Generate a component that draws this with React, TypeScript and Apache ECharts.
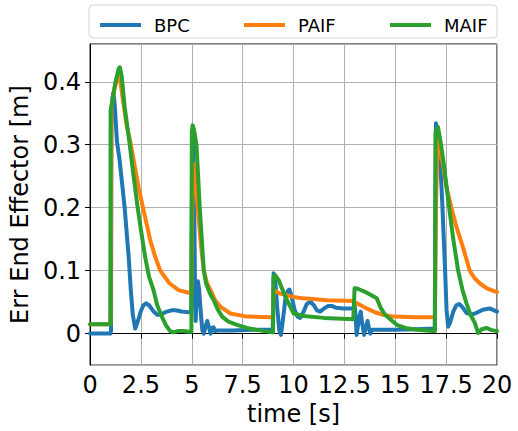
import React, { useEffect, useRef } from "react";
import * as echarts from "echarts";

const seriesNames = ["BPC", "PAIF", "MAIF"];
const seriesColors = ["#1f77b4", "#ff7f0e", "#2ca02c"];

const bpcT = [0, 1.0, 1.03, 1.05, 1.1, 1.15, 1.22, 1.32, 1.44, 1.57, 1.7, 1.8, 1.9, 2.0, 2.1, 2.22, 2.35, 2.5, 2.62, 2.75, 2.9, 3.1, 3.3, 3.45, 3.7, 4.0, 4.2, 4.5, 4.84, 4.97, 5.0, 5.03, 5.07, 5.12, 5.16, 5.19, 5.24, 5.3, 5.36, 5.45, 5.52, 5.59, 5.68, 5.76, 5.84, 5.92, 6.0, 6.07, 6.14, 6.25, 7, 8, 8.98, 9.02, 9.1, 9.2, 9.3, 9.38, 9.47, 9.6, 9.72, 9.8, 9.9, 10.05, 10.2, 10.33, 10.5, 10.65, 10.82, 11.0, 11.15, 11.31, 11.5, 11.7, 11.88, 12.1, 12.45, 12.94, 13.0, 13.05, 13.1, 13.2, 13.3, 13.38, 13.47, 13.55, 13.64, 13.71, 13.77, 13.85, 14.0, 15, 16, 16.94, 16.97, 17.0, 17.05, 17.22, 17.32, 17.45, 17.52, 17.6, 17.7, 17.85, 18.0, 18.14, 18.3, 18.5, 18.74, 19.0, 19.3, 19.64, 20];
const bpcV = [0, 0, 0.005, 0.35, 0.375, 0.383, 0.36, 0.305, 0.279, 0.24, 0.2, 0.16, 0.121, 0.07, 0.03, 0.008, 0.02, 0.036, 0.045, 0.048, 0.045, 0.036, 0.03, 0.03, 0.034, 0.037, 0.037, 0.035, 0.034, 0.034, 0.2, 0.31, 0.29, 0.2, 0.06, 0.02, 0.06, 0.083, 0.07, 0.03, 0.005, 0.0, 0.012, 0.02, 0.01, 0.0, 0.009, 0.01, 0.004, 0.005, 0.005, 0.006, 0.006, 0.096, 0.085, 0.04, 0.005, -0.002, 0.02, 0.055, 0.068, 0.07, 0.06, 0.038, 0.027, 0.025, 0.035, 0.047, 0.051, 0.045, 0.037, 0.035, 0.04, 0.044, 0.044, 0.041, 0.04, 0.04, 0.045, 0.03, -0.002, 0.02, 0.035, 0.015, -0.002, 0.01, 0.02, 0.008, 0.0, 0.006, 0.006, 0.006, 0.007, 0.008, 0.2, 0.334, 0.32, 0.268, 0.2, 0.1, 0.038, 0.011, 0.018, 0.035, 0.045, 0.047, 0.042, 0.033, 0.03, 0.033, 0.038, 0.04, 0.035];

const paifT = [0, 1.0, 1.05, 1.2, 1.35, 1.46, 1.6, 1.8, 1.98, 2.2, 2.4, 2.6, 2.96, 3.2, 3.45, 3.9, 4.35, 4.84, 4.98, 5.02, 5.08, 5.15, 5.29, 5.45, 5.59, 5.75, 5.92, 6.15, 6.4, 6.9, 7.7, 8.86, 8.99, 9.02, 9.3, 9.67, 10.0, 10.49, 11.64, 12.94, 13.0, 13.3, 13.6, 14.0, 14.41, 14.9, 16.0, 16.95, 17.0, 17.08, 17.2, 17.35, 17.5, 17.76, 18.0, 18.33, 18.66, 18.9, 19.15, 19.5, 20];
const paifV = [0.015, 0.015, 0.36, 0.39, 0.405, 0.407, 0.375, 0.33, 0.305, 0.265, 0.23, 0.2, 0.148, 0.122, 0.1, 0.08, 0.069, 0.065, 0.063, 0.2, 0.27, 0.26, 0.2, 0.14, 0.1, 0.08, 0.069, 0.053, 0.043, 0.032, 0.027, 0.026, 0.026, 0.07, 0.064, 0.061, 0.058, 0.056, 0.053, 0.052, 0.05, 0.045, 0.04, 0.034, 0.03, 0.027, 0.026, 0.026, 0.2, 0.31, 0.29, 0.268, 0.235, 0.2, 0.17, 0.137, 0.1, 0.088, 0.08, 0.072, 0.066];

const maifT = [0, 1.0, 1.01, 1.1, 1.25, 1.4, 1.46, 1.55, 1.7, 1.93, 2.1, 2.34, 2.5, 2.71, 2.9, 3.12, 3.3, 3.53, 3.75, 3.94, 4.1, 4.3, 4.6, 4.84, 4.98, 5.0, 5.04, 5.1, 5.23, 5.31, 5.39, 5.49, 5.59, 5.7, 5.83, 5.95, 6.08, 6.25, 6.49, 6.8, 7.22, 7.7, 8.2, 8.94, 8.99, 9.02, 9.1, 9.27, 9.59, 10.0, 10.49, 11.5, 12.94, 13.0, 13.1, 13.6, 14.09, 14.3, 14.5, 15.07, 15.5, 16.05, 16.86, 16.95, 16.98, 17.1, 17.25, 17.39, 17.65, 17.85, 18.09, 18.3, 18.5, 18.7, 18.91, 19.07, 19.25, 19.48, 19.7, 20];
const maifV = [0.015, 0.015, 0.354, 0.37, 0.4, 0.42, 0.423, 0.41, 0.36, 0.305, 0.26, 0.2, 0.165, 0.121, 0.09, 0.069, 0.045, 0.027, 0.012, 0.004, 0.002, 0.004, 0.004, 0.003, 0.003, 0.32, 0.331, 0.325, 0.3, 0.25, 0.2, 0.15, 0.1, 0.08, 0.069, 0.06, 0.053, 0.04, 0.027, 0.019, 0.014, 0.009, 0.006, 0.002, 0.002, 0.09, 0.093, 0.085, 0.059, 0.032, 0.028, 0.025, 0.023, 0.072, 0.072, 0.065, 0.056, 0.04, 0.03, 0.014, 0.009, 0.006, 0.004, 0.004, 0.32, 0.328, 0.3, 0.268, 0.2, 0.15, 0.1, 0.07, 0.048, 0.03, 0.017, 0.001, 0.007, 0.009, 0.006, 0.004];

const xTickInterval = 2.5;
const xMin = 0;
const xMax = 20;
const yMin = -0.05;
const yMax = 0.46;

const zip = (t: number[], v: number[]) => t.map((x, i) => [x, v[i]]);

export default function App() {
  const ref = useRef<HTMLDivElement>(null);
  useEffect(() => {
    document.body.style.margin = "0";
    const chart = echarts.init(ref.current!, null, { renderer: "svg" });
    const font = "DejaVu Sans";
    const datasets = [zip(bpcT, bpcV), zip(paifT, paifV), zip(maifT, maifV)];
    const legendLefts = [95, 239, 385];
    chart.setOption({
      animation: false,
      backgroundColor: "#fff",
      textStyle: { fontFamily: font },
      grid: {
        left: 89,
        right: 21,
        top: 44,
        bottom: 62,
        show: true,
        borderColor: "#000",
        borderWidth: 1,
        backgroundColor: "transparent",
      },
      graphic: [
        {
          type: "rect",
          shape: { x: 89, y: 5, width: 408, height: 33, r: 4 },
          style: { fill: "#fff", stroke: "#d4d4d4", lineWidth: 1 },
          z: -1,
        },
      ],
      legend: seriesNames.map((n, i) => ({
        data: [n],
        left: legendLefts[i],
        top: 11,
        itemWidth: 41,
        itemHeight: 4,
        icon: "rect",
        textStyle: { fontSize: 18, color: "#000", fontFamily: font, padding: [0, 0, 0, 8] },
        selectedMode: false,
      })),
      xAxis: {
        type: "value",
        min: xMin,
        max: xMax,
        interval: xTickInterval,
        name: "time [s]",
        nameLocation: "middle",
        nameGap: 35,
        nameTextStyle: { fontSize: 24, color: "#000", fontFamily: font },
        axisLine: { show: true, lineStyle: { color: "#000", width: 1 } },
        axisTick: { show: true, inside: false, length: 5, lineStyle: { color: "#000" } },
        axisLabel: { fontSize: 24, color: "#000", margin: 8, fontFamily: font },
        splitLine: { show: true, lineStyle: { color: "#b0b0b0", width: 1 } },
      },
      yAxis: {
        type: "value",
        min: yMin,
        max: yMax,
        splitNumber: 5,
        name: "Err End Effector [m]",
        nameLocation: "middle",
        nameGap: 49,
        nameTextStyle: { fontSize: 24, color: "#000", fontFamily: font },
        axisLine: { show: true, onZero: false, lineStyle: { color: "#000", width: 1 } },
        axisTick: { show: true, inside: false, length: 5, lineStyle: { color: "#000" } },
        axisLabel: {
          fontSize: 24,
          color: "#000",
          margin: 9,
          fontFamily: font,
          showMinLabel: false,
          showMaxLabel: false,
          formatter: (v: number) => {
            const r = Math.round(v * 10) / 10;
            if (Math.abs(r - v) > 1e-6) return "";
            return r === 0 ? "0" : String(r);
          },
        },
        splitLine: { show: true, lineStyle: { color: "#b0b0b0", width: 1 } },
      },
      series: seriesNames.map((n, i) => ({
        name: n,
        type: "line",
        data: datasets[i],
        showSymbol: false,
        symbol: "none",
        smooth: false,
        lineStyle: { color: seriesColors[i], width: 4, join: "round", cap: "round" },
        itemStyle: { color: seriesColors[i] },
        z: 2 + i,
      })),
    });
    return () => chart.dispose();
  }, []);
  return <div ref={ref} style={{ width: 518, height: 431 }} />;
}
